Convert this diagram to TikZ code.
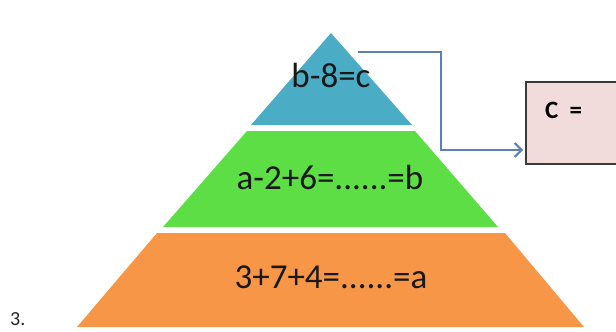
\documentclass[tikz,border=0pt]{standalone}
\usepackage{fontspec}
\setmainfont{Carlito}
\usetikzlibrary{arrows.meta}
\definecolor{topblue}{HTML}{4BACC6}
\definecolor{midgreen}{HTML}{5DDE45}
\definecolor{botorange}{HTML}{F79646}
\definecolor{boxpink}{HTML}{F2DCDB}
\definecolor{arrowblue}{HTML}{5A80B8}
\definecolor{boxedge}{HTML}{3A3A3A}
\tikzset{
  layertext/.style={font=\fontsize{35}{40}\selectfont, text=black!90, inner sep=0pt, anchor=base},
  connector/.style={draw=arrowblue, line width=2.2pt, -{Straight Barb[length=7pt,width=14pt,line width=2pt]}},
  answerbox/.style={draw=boxedge, line width=1.4pt, fill=boxpink}
}
\begin{document}
\begin{tikzpicture}[x=1pt,y=-1pt]
\useasboundingbox (0,0) rectangle (616,332);
\clip (0,0) rectangle (616,332);
% layers
\fill[botorange] (157,233) -- (505,233) -- (584,327) -- (77,327) -- cycle;
\fill[midgreen] (247,131) -- (415,131) -- (498,227) -- (163,227) -- cycle;
\fill[topblue] (331,33) -- (412,125) -- (251,125) -- cycle;
% texts
\node[layertext] (ctext) at (331,87) {b-8=c};
\node[layertext] (btext) at (330,189) {a-2+6=......=b};
\node[layertext] (atext) at (331,288) {3+7+4=......=a};
% answer box
\draw[answerbox] (526,82) rectangle (640,164);
\node[font=\fontsize{25}{28}\selectfont\bfseries, anchor=base west, inner sep=0pt] (ans) at (545,118) {C\ \ =};
% connector
\coordinate (start) at (358,52);
\coordinate (bend1) at (441,52);
\coordinate (bend2) at (441,150);
\coordinate (tip) at (523,150);
\draw[connector] (start) -- (bend1) -- (bend2) -- (tip);
% problem number
\node[font=\fontsize{20}{24}\selectfont, anchor=base west, inner sep=0pt, text=black!85] (num) at (10,325) {3.};
\end{tikzpicture}
\end{document}
